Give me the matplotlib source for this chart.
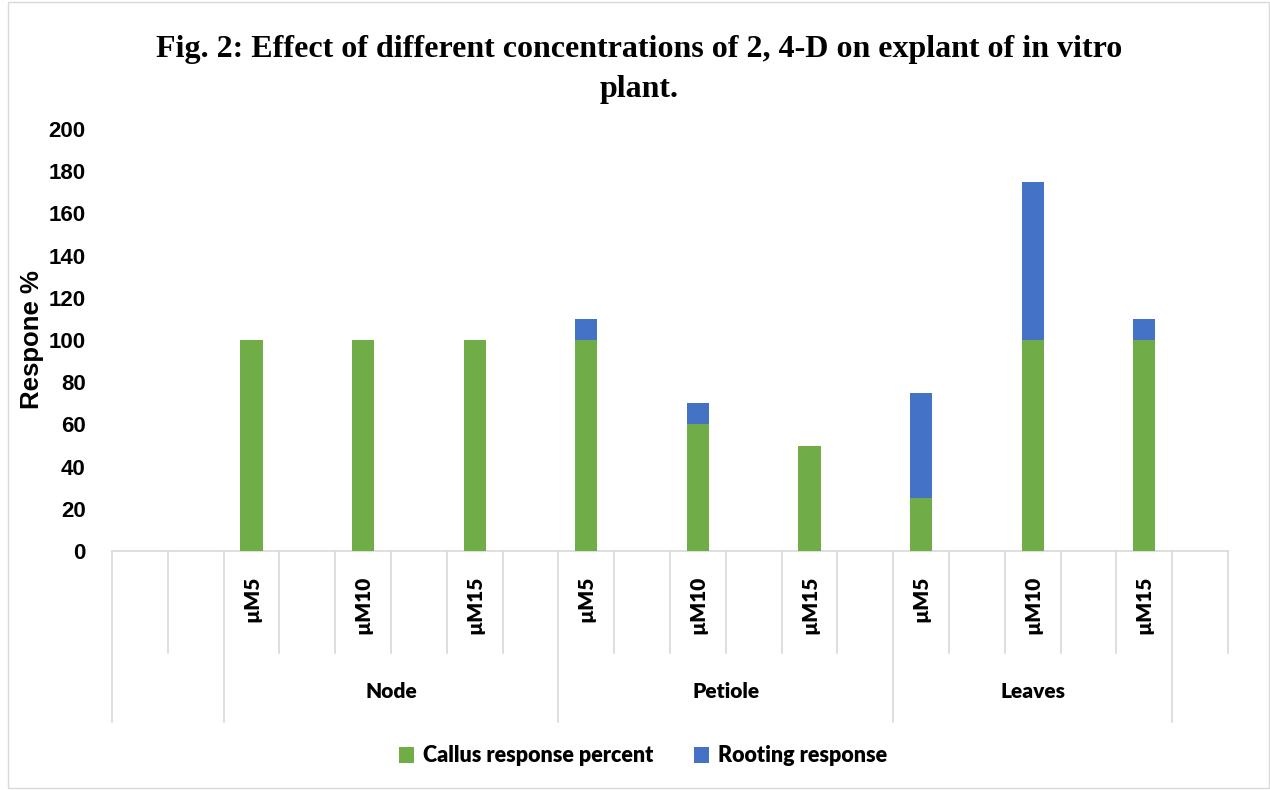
import matplotlib
matplotlib.use("Agg")
import matplotlib.pyplot as plt
from matplotlib.patches import Rectangle
import matplotlib.transforms as mtransforms

# ---- data ----
explants = ["Node", "Petiole", "Leaves"]
concentrations = ["µM5", "µM10", "µM15"]
callus = [100, 100, 100, 100, 60, 50, 25, 100, 100]
rooting = [0, 0, 0, 10, 10, 0, 50, 75, 10]
y_ticks = [0, 20, 40, 60, 80, 100, 120, 140, 160, 180, 200]

GREEN = "#70AD47"
BLUE = "#4472C4"
GRID = "#D9D9D9"
LBL_FONT = ["Lato", "DejaVu Sans"]

fig = plt.figure(figsize=(12.7, 7.9), dpi=100)
ax = fig.add_axes([112/1270, 1-551/790, (1228-112)/1270, (551-129)/790])

n_slots = 20
positions = [2 + 2*i for i in range(len(callus))]
ax.bar(positions, callus, width=0.4, color=GREEN, label="Callus response percent", zorder=3)
ax.bar(positions, rooting, width=0.4, bottom=callus, color=BLUE, label="Rooting response", zorder=3)

ax.set_xlim(-0.5, n_slots - 0.5)
ax.set_ylim(0, 200)
ax.set_yticks(y_ticks)
ax.set_yticklabels([str(v) for v in y_ticks], fontfamily="Liberation Sans",
                   fontweight="bold", fontsize=16)
ax.tick_params(axis="y", length=0, pad=19)
ax.set_xticks([])
for s in ["top", "right", "left"]:
    ax.spines[s].set_visible(False)
ax.spines["bottom"].set_color(GRID)
ax.spines["bottom"].set_linewidth(1.2)

ax.set_ylabel("Respone %", fontfamily="Liberation Sans", fontweight="bold",
              fontsize=18.5, labelpad=2)
ax.yaxis.set_label_coords(-0.0605, 0.5)

trans = mtransforms.blended_transform_factory(ax.transData, ax.transAxes)
axh = 551 - 129
short_y = -(653 - 551) / axh
long_y = -(722 - 551) / axh
long_edges = {0, 2, 8, 14, 19}
for k in range(n_slots + 1):
    x = k - 0.5
    y1 = long_y if k in long_edges else short_y
    ax.plot([x, x], [0, y1], color=GRID, lw=1.2, transform=trans, clip_on=False)

# concentration labels
label_y = -(576 - 551) / axh
for i, p in enumerate(positions):
    ax.text(p, label_y, concentrations[i % 3], rotation=90, ha="center", va="top",
            fontsize=15, fontweight="heavy", family=LBL_FONT, transform=trans)

# explant group labels
group_y = -(692 - 551) / axh
group_spans = [(2, 7), (8, 13), (14, 18)]
for name, (a, b) in zip(explants, group_spans):
    ax.text((a + b) / 2, group_y, name, ha="center", va="center",
            fontsize=15, fontweight="heavy", family=LBL_FONT, transform=trans)

fig.text(0.5 + 4/1270, 1 - 50/790, "Fig. 2: Effect of different concentrations of 2, 4-D on explant of in vitro",
         ha="center", va="center", fontsize=23, fontweight="bold", family="Liberation Serif")
fig.text(0.5 + 4/1270, 1 - 89/790, "plant.", ha="center", va="center", fontsize=23,
         fontweight="bold", family="Liberation Serif")

leg = fig.legend(loc="center", bbox_to_anchor=(643/1270, 1 - 756/790), ncol=2,
                 frameon=False, prop={"family": LBL_FONT, "weight": "heavy", "size": 15.5},
                 handlelength=0.7, handleheight=0.7, handletextpad=0.4, columnspacing=1.9)

fig.patches.append(Rectangle((8/1270, 0.002), 1 - 8/1270 - 0.001, 0.996,
                             transform=fig.transFigure, fill=False, edgecolor=GRID, lw=1))

fig.savefig("out.png", dpi=100, facecolor="white")
